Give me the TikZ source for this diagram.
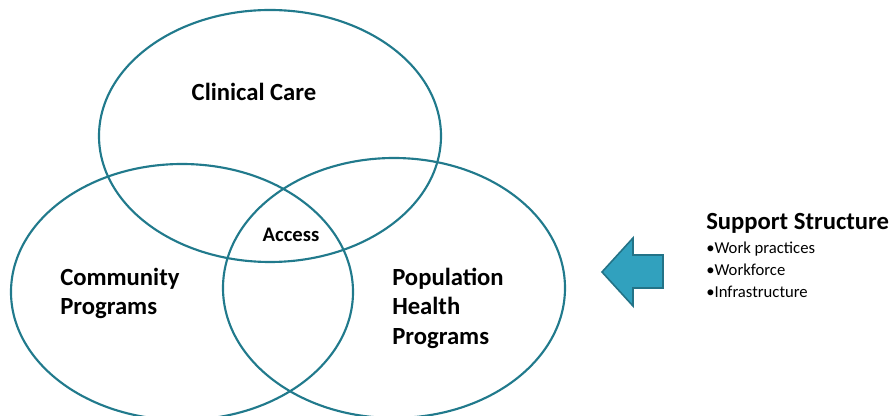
\documentclass[tikz,border=0pt]{standalone}
\usepackage{fontspec}
\setmainfont{Carlito}
\definecolor{ringteal}{RGB}{33,122,140}
\definecolor{arrowfill}{RGB}{49,161,190}
\definecolor{arrowline}{RGB}{35,115,135}

\begin{document}
\begin{tikzpicture}[x=0.75pt,y=-0.75pt,
	ring/.style={ringteal, line width=1.6pt},
	label/.style={font=\fontsize{18.5}{22}\selectfont\bfseries, align=left, inner sep=0pt},
	push/.style={draw=arrowline, fill=arrowfill, line width=1.2pt, line join=miter}]

	\useasboundingbox (0,0) rectangle (893,416);

	% the three rings
	\draw [ring] (270,136) ellipse [x radius=171, y radius=126];
	\draw [ring] (182,292) ellipse [x radius=171, y radius=128];
	\draw [ring] (394,288) ellipse [x radius=171, y radius=130];

	\node (A) [label] at (254,92) {Clinical Care};
	\node (B) [label, font=\fontsize{15.5}{18}\selectfont\bfseries] at (291,235) {Access};
	\node (C) [label, anchor=north west] at (60,268) {Community\\Programs};
	\node (D) [label, anchor=north west] at (392,268) {Population\\Health\\Programs};

	% block arrow
	\draw [push] (602,272) -- (633,238) -- (633,255) -- (663,255) -- (663,288) -- (633,288) -- (633,306) -- cycle;

	\node (F) [label, anchor=west, font=\fontsize{18.5}{22}\selectfont\bfseries] at (706,223) {Support Structure};
	\node (G) [anchor=north west, align=left, inner sep=0pt, font=\fontsize{12.5}{16.5}\selectfont] at (706,242)
		{•Work practices\\•Workforce\\•Infrastructure};
\normalsize

\end{tikzpicture}
\end{document}
